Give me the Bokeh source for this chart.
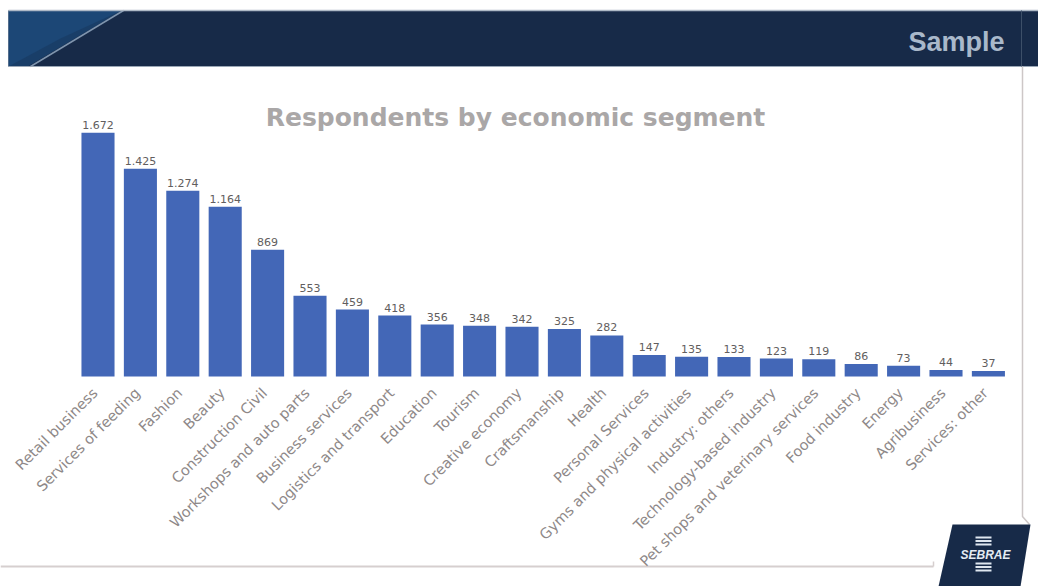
import numpy as np
from bokeh.plotting import figure
from bokeh.models import Range1d, ColumnDataSource
from bokeh.core.properties import value
from bokeh.embed import file_html
from bokeh.resources import INLINE

# ---- data ----
categories = [
    "Retail business", "Services of feeding", "Fashion", "Beauty",
    "Construction Civil", "Workshops and auto parts", "Business services",
    "Logistics and transport", "Education", "Tourism", "Creative economy",
    "Craftsmanship", "Health", "Personal Services",
    "Gyms and physical activities", "Industry: others",
    "Technology-based industry", "Pet shops and veterinary services",
    "Food industry", "Energy", "Agribusiness", "Services: other",
]
counts = [1672, 1425, 1274, 1164, 869, 553, 459, 418, 356, 348, 342,
          325, 282, 147, 135, 133, 123, 119, 86, 73, 44, 37]
value_labels = [f"{v:,}".replace(",", ".") for v in counts]
chart_title = "Respondents by economic segment"
header_text = "Sample"
logo_text = "SEBRAE"

# ---- layout constants (pixels) ----
W, H = 1038, 586
SLOT = 42.4      # px per category
X0 = 97.5        # px centre of first bar
BASE = 376       # px of bar baseline
SCALE = 0.1458   # px per respondent

p = figure(width=W, height=H, output_backend="svg", toolbar_location=None,
           x_axis_type=None, y_axis_type=None, min_border=0,
           x_range=Range1d(-X0 / SLOT, (W - X0) / SLOT),
           y_range=Range1d(-(H - BASE) / SCALE, BASE / SCALE))
p.min_border_left = p.min_border_right = p.min_border_top = p.min_border_bottom = 0
p.outline_line_color = None
p.background_fill_color = "white"
p.border_fill_color = "white"
p.extra_x_ranges = {"px": Range1d(0, W)}
p.extra_y_ranges = {"px": Range1d(H, 0)}
PX = dict(x_range_name="px", y_range_name="px")

# ---- header band ----
p.quad(left=8, right=W, top=10, bottom=66, fill_color="#172a48", line_color=None, **PX)
p.patch(x=[8, 121, 27, 8], y=[10, 10, 66, 66], fill_color="#1c4776", line_color=None, **PX)
p.patch(x=[60, 121, 27, 8], y=[38, 10, 66, 66], fill_color="#183a62", line_color=None, alpha=0.7, **PX)
p.line(x=[30, 123], y=[66, 10], line_color="#7f95ae", line_width=1.5, **PX)
p.line(x=[8, W], y=[10, 10], line_color="#aeb9c6", line_width=1.5, **PX)
p.line(x=[8, W], y=[66, 66], line_color="#9aa7b6", line_width=1, **PX)
p.line(x=[1021, 1021], y=[10, 66], line_color="#3d4f68", line_width=1, **PX)
p.text(x=[1004], y=[41], text=[header_text], text_align="right", text_baseline="middle",
       text_font=value("Liberation Sans"), text_font_style="bold",
       text_font_size="27px", text_color="#a9b8ca", **PX)

# ---- frame lines ----
p.line(x=[1022, 1022, 1029], y=[66, 516, 524], line_color="#cdc7c7", line_width=1.5, **PX)
p.line(x=[0, 933], y=[566, 566], line_color="#d6cfcf", line_width=2, **PX)
p.line(x=[933, 933], y=[561, 566], line_color="#d6cfcf", line_width=1.5, **PX)

# ---- title ----
p.text(x=[515], y=[117], text=[chart_title], text_align="center", text_baseline="middle",
       text_font=value("DejaVu Sans"), text_font_style="bold",
       text_font_size="25px", text_color="#aaa7a7", **PX)

# ---- bars ----
src = ColumnDataSource(dict(x=list(range(len(categories))), count=counts,
                            vlabel=value_labels, cat=categories))
p.vbar(x="x", top="count", bottom=0, width=0.78, source=src,
       fill_color="#4367b7", line_color=None)
p.text(x="x", y="count", text="vlabel", source=src, text_align="center",
       text_baseline="bottom", y_offset=-4, text_font=value("DejaVu Sans"),
       text_font_size="11px", text_color="#625e5e")
p.text(x="x", y=0, text="cat", source=src, angle=np.pi / 4, text_align="right",
       text_baseline="middle", x_offset=-3, y_offset=14,
       text_font=value("DejaVu Sans"), text_font_size="14.5px", text_color="#8e8888")

# ---- logo ----
p.patch(x=[952, 1030, 1020, 938], y=[524, 524, 586, 586], fill_color="#172a48",
        line_color=None, **PX)
stripe_y = [537, 540.5, 544, 563, 566.5, 570]
p.quad(left=[975] * 6, right=[991] * 6, top=[y - 1 for y in stripe_y],
       bottom=[y + 1 for y in stripe_y], fill_color="#dfe7f0", line_color=None, **PX)
p.text(x=[985], y=[554], text=[logo_text], text_align="center", text_baseline="middle",
       text_font=value("Liberation Sans"), text_font_style="bold italic",
       text_font_size="12px", text_color="#e4ebf3", **PX)

open("out.html", "w").write(file_html(p, INLINE))
